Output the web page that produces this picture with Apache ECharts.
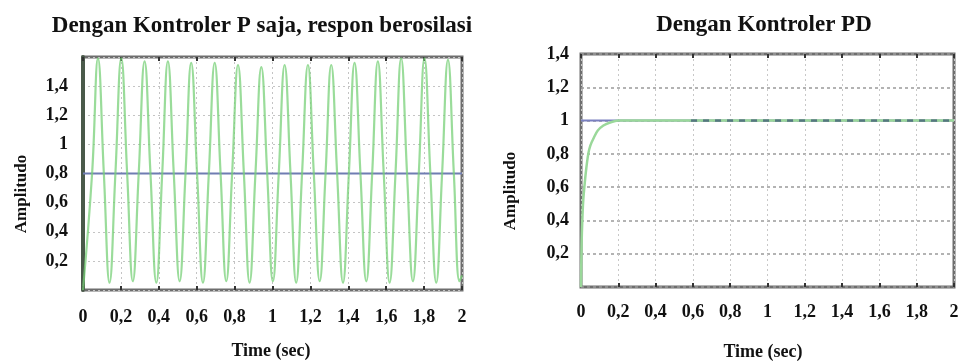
<!DOCTYPE html>
<html>
<head>
<meta charset="utf-8">
<script src="https://cdn.jsdelivr.net/npm/echarts@6/dist/echarts.min.js"></script>
<style>
html,body{margin:0;padding:0;background:#fff;}
#chart{width:962px;height:364px;}
</style>
</head>
<body>
<div id="chart"></div>
<script>
// ---- Data ----
const xTickValues = [0, 0.2, 0.4, 0.6, 0.8, 1, 1.2, 1.4, 1.6, 1.8, 2];
const yTickValues = [0.2, 0.4, 0.6, 0.8, 1, 1.2, 1.4];

// Left: P controller only (oscillating response)
const pTime = [0, 0.048, 0.079, 0.110, 0.140, 0.171, 0.202, 0.233, 0.263, 0.294, 0.325, 0.356, 0.387, 0.418,
  0.448, 0.479, 0.510, 0.541, 0.571, 0.602, 0.633, 0.664, 0.695, 0.726, 0.756, 0.787, 0.818, 0.849,
  0.879, 0.910, 0.941, 0.972, 1.002, 1.033, 1.064, 1.095, 1.125, 1.156, 1.187, 1.218, 1.249, 1.280,
  1.310, 1.341, 1.372, 1.403, 1.433, 1.464, 1.495, 1.526, 1.556, 1.587, 1.618, 1.649, 1.679, 1.710,
  1.741, 1.772, 1.802, 1.833, 1.864, 1.895, 1.926, 1.957, 1.987, 2.0];
const pAmp = [0, 0.8, 1.59, 0.8, 0.05, 0.8, 1.59, 0.8, 0.06, 0.8, 1.57, 0.8, 0.05, 0.8,
  1.57, 0.8, 0.06, 0.8, 1.56, 0.8, 0.05, 0.8, 1.56, 0.8, 0.06, 0.8, 1.545, 0.8,
  0.05, 0.8, 1.53, 0.8, 0.06, 0.8, 1.545, 0.8, 0.05, 0.8, 1.545, 0.8, 0.06, 0.8,
  1.545, 0.8, 0.05, 0.8, 1.56, 0.8, 0.06, 0.8, 1.57, 0.8, 0.05, 0.8, 1.59, 0.8,
  0.06, 0.8, 1.59, 0.8, 0.05, 0.8, 1.58, 0.8, 0.06, 0.1];
const pRefTime = [0, 2];
const pRefAmp = [0.8, 0.8];

// Right: PD controller (fast, no overshoot)
const pdTime = [0, 0.003, 0.007, 0.012, 0.018, 0.027, 0.039, 0.05, 0.07, 0.09, 0.12, 0.16, 0.2, 2];
const pdAmp = [0, 0.25, 0.4, 0.52, 0.6, 0.7, 0.8, 0.85, 0.9, 0.94, 0.97, 0.99, 1, 1];
const pdRefTime = [0, 2];
const pdRefAmp = [1, 1];
const pdDashTime = [0.59, 2];
const pdDashAmp = [1, 1];

// ---- Helpers ----
const zip = (a, b) => a.map((v, i) => [v, b[i]]);
const fmt = v => String(Math.round(v * 10) / 10).replace('.', ',');
const near = (list, v) => list.some(t => Math.abs(t - v) < 1e-6);
const serif = 'Liberation Serif';
const labelStyle = {fontFamily: serif, fontWeight: 'bold', fontSize: 18, color: '#111'};

function xAxes(gridIndex, vColor, vType, margin) {
  return [{
    type: 'value', gridIndex, min: 0, max: 2, interval: 0.2, position: 'bottom',
    axisLine: {show: false},
    axisTick: {show: true, inside: true, length: 4, lineStyle: {color: '#333', width: 2}},
    axisLabel: Object.assign({margin: margin, formatter: v => near(xTickValues, v) ? fmt(v) : ''}, labelStyle),
    splitLine: {show: true, lineStyle: {color: vColor, type: vType, width: 1}}
  }, {
    type: 'value', gridIndex, min: 0, max: 2, interval: 0.2, position: 'top',
    axisLine: {show: false},
    axisTick: {show: true, inside: true, length: 4, lineStyle: {color: '#333', width: 2}},
    axisLabel: {show: false}, splitLine: {show: false}
  }];
}

const option = {
  animation: false,
  backgroundColor: '#fff',
  title: [
    {text: 'Dengan Kontroler P saja, respon berosilasi', left: 257, top: 10, textAlign: 'center',
     textStyle: {fontFamily: serif, fontWeight: 'bold', fontSize: 23, color: '#111'}},
    {text: 'Dengan Kontroler PD', left: 759, top: 9, textAlign: 'center',
     textStyle: {fontFamily: serif, fontWeight: 'bold', fontSize: 23, color: '#111'}}
  ],
  grid: [
    {left: 83, right: 500, top: 57, bottom: 74, show: true, borderColor: '#6e6e6e', borderWidth: 3, backgroundColor: '#fff'},
    {left: 581, right: 8, top: 54, bottom: 77, show: true, borderColor: '#6e6e6e', borderWidth: 3, backgroundColor: '#fff'}
  ],
  xAxis: [].concat(xAxes(0, '#c4c4c4', [2, 3], 18), xAxes(1, '#c8c8c8', [2, 3], 16)),
  yAxis: [
    {type: 'value', gridIndex: 0, min: 0, max: 1.6, interval: 0.2,
     axisLine: {show: true, lineStyle: {color: '#4a5a4a', width: 4}},
     axisTick: {show: false},
     axisLabel: Object.assign({margin: 15, formatter: v => near(yTickValues, v) ? fmt(v) : ''}, labelStyle),
     splitLine: {show: true, lineStyle: {color: '#c4c4c4', type: [2, 3], width: 1}}},
    {type: 'value', gridIndex: 1, min: 0, max: 1.4, interval: 0.2,
     axisLine: {show: false}, axisTick: {show: false},
     axisLabel: Object.assign({margin: 12, formatter: v => near(yTickValues, v) ? fmt(v) : ''}, labelStyle),
     splitLine: {show: true, lineStyle: {color: '#9a9a9a', type: [3, 3], width: 1.5}}}
  ],
  series: [
    {type: 'line', xAxisIndex: 0, yAxisIndex: 0, data: zip(pRefTime, pRefAmp), symbol: 'none',
     lineStyle: {color: '#6f7db2', width: 2}, z: 2},
    {type: 'line', xAxisIndex: 0, yAxisIndex: 0, data: zip(pTime, pAmp), symbol: 'none', smooth: 0.45,
     lineStyle: {color: 'rgba(120,208,120,0.75)', width: 2.2}, z: 3},
    {type: 'line', xAxisIndex: 2, yAxisIndex: 1, data: zip(pdRefTime, pdRefAmp), symbol: 'none',
     lineStyle: {color: '#7a80c0', width: 2}, z: 2},
    {type: 'line', xAxisIndex: 2, yAxisIndex: 1, data: zip(pdTime, pdAmp), symbol: 'none', smooth: 0.3,
     lineStyle: {color: '#9ad89a', width: 2.5}, z: 3},
    {type: 'line', xAxisIndex: 2, yAxisIndex: 1, data: zip(pdDashTime, pdDashAmp), symbol: 'none',
     lineStyle: {color: '#557780', width: 2.5, type: [6, 6]}, z: 4}
  ],
  graphic: [
    {type: 'text',
     style: {text: 'Amplitudo', font: 'bold 17px "Liberation Serif"', fill: '#111', textAlign: 'center', textVerticalAlign: 'middle'},
     x: 22, y: 194, rotation: Math.PI / 2},
    {type: 'text',
     style: {text: 'Amplitudo', font: 'bold 17px "Liberation Serif"', fill: '#111', textAlign: 'center', textVerticalAlign: 'middle'},
     x: 511, y: 191, rotation: Math.PI / 2},
    {type: 'text',
     style: {text: 'Time (sec)', font: 'bold 18px "Liberation Serif"', fill: '#111', textAlign: 'center', textVerticalAlign: 'middle'},
     x: 271, y: 351},
    {type: 'text',
     style: {text: 'Time (sec)', font: 'bold 18px "Liberation Serif"', fill: '#111', textAlign: 'center', textVerticalAlign: 'middle'},
     x: 763, y: 352}
  ]
};

const chart = echarts.init(document.getElementById('chart'), null, {renderer: 'canvas'});
chart.setOption(option);
</script>
</body>
</html>
